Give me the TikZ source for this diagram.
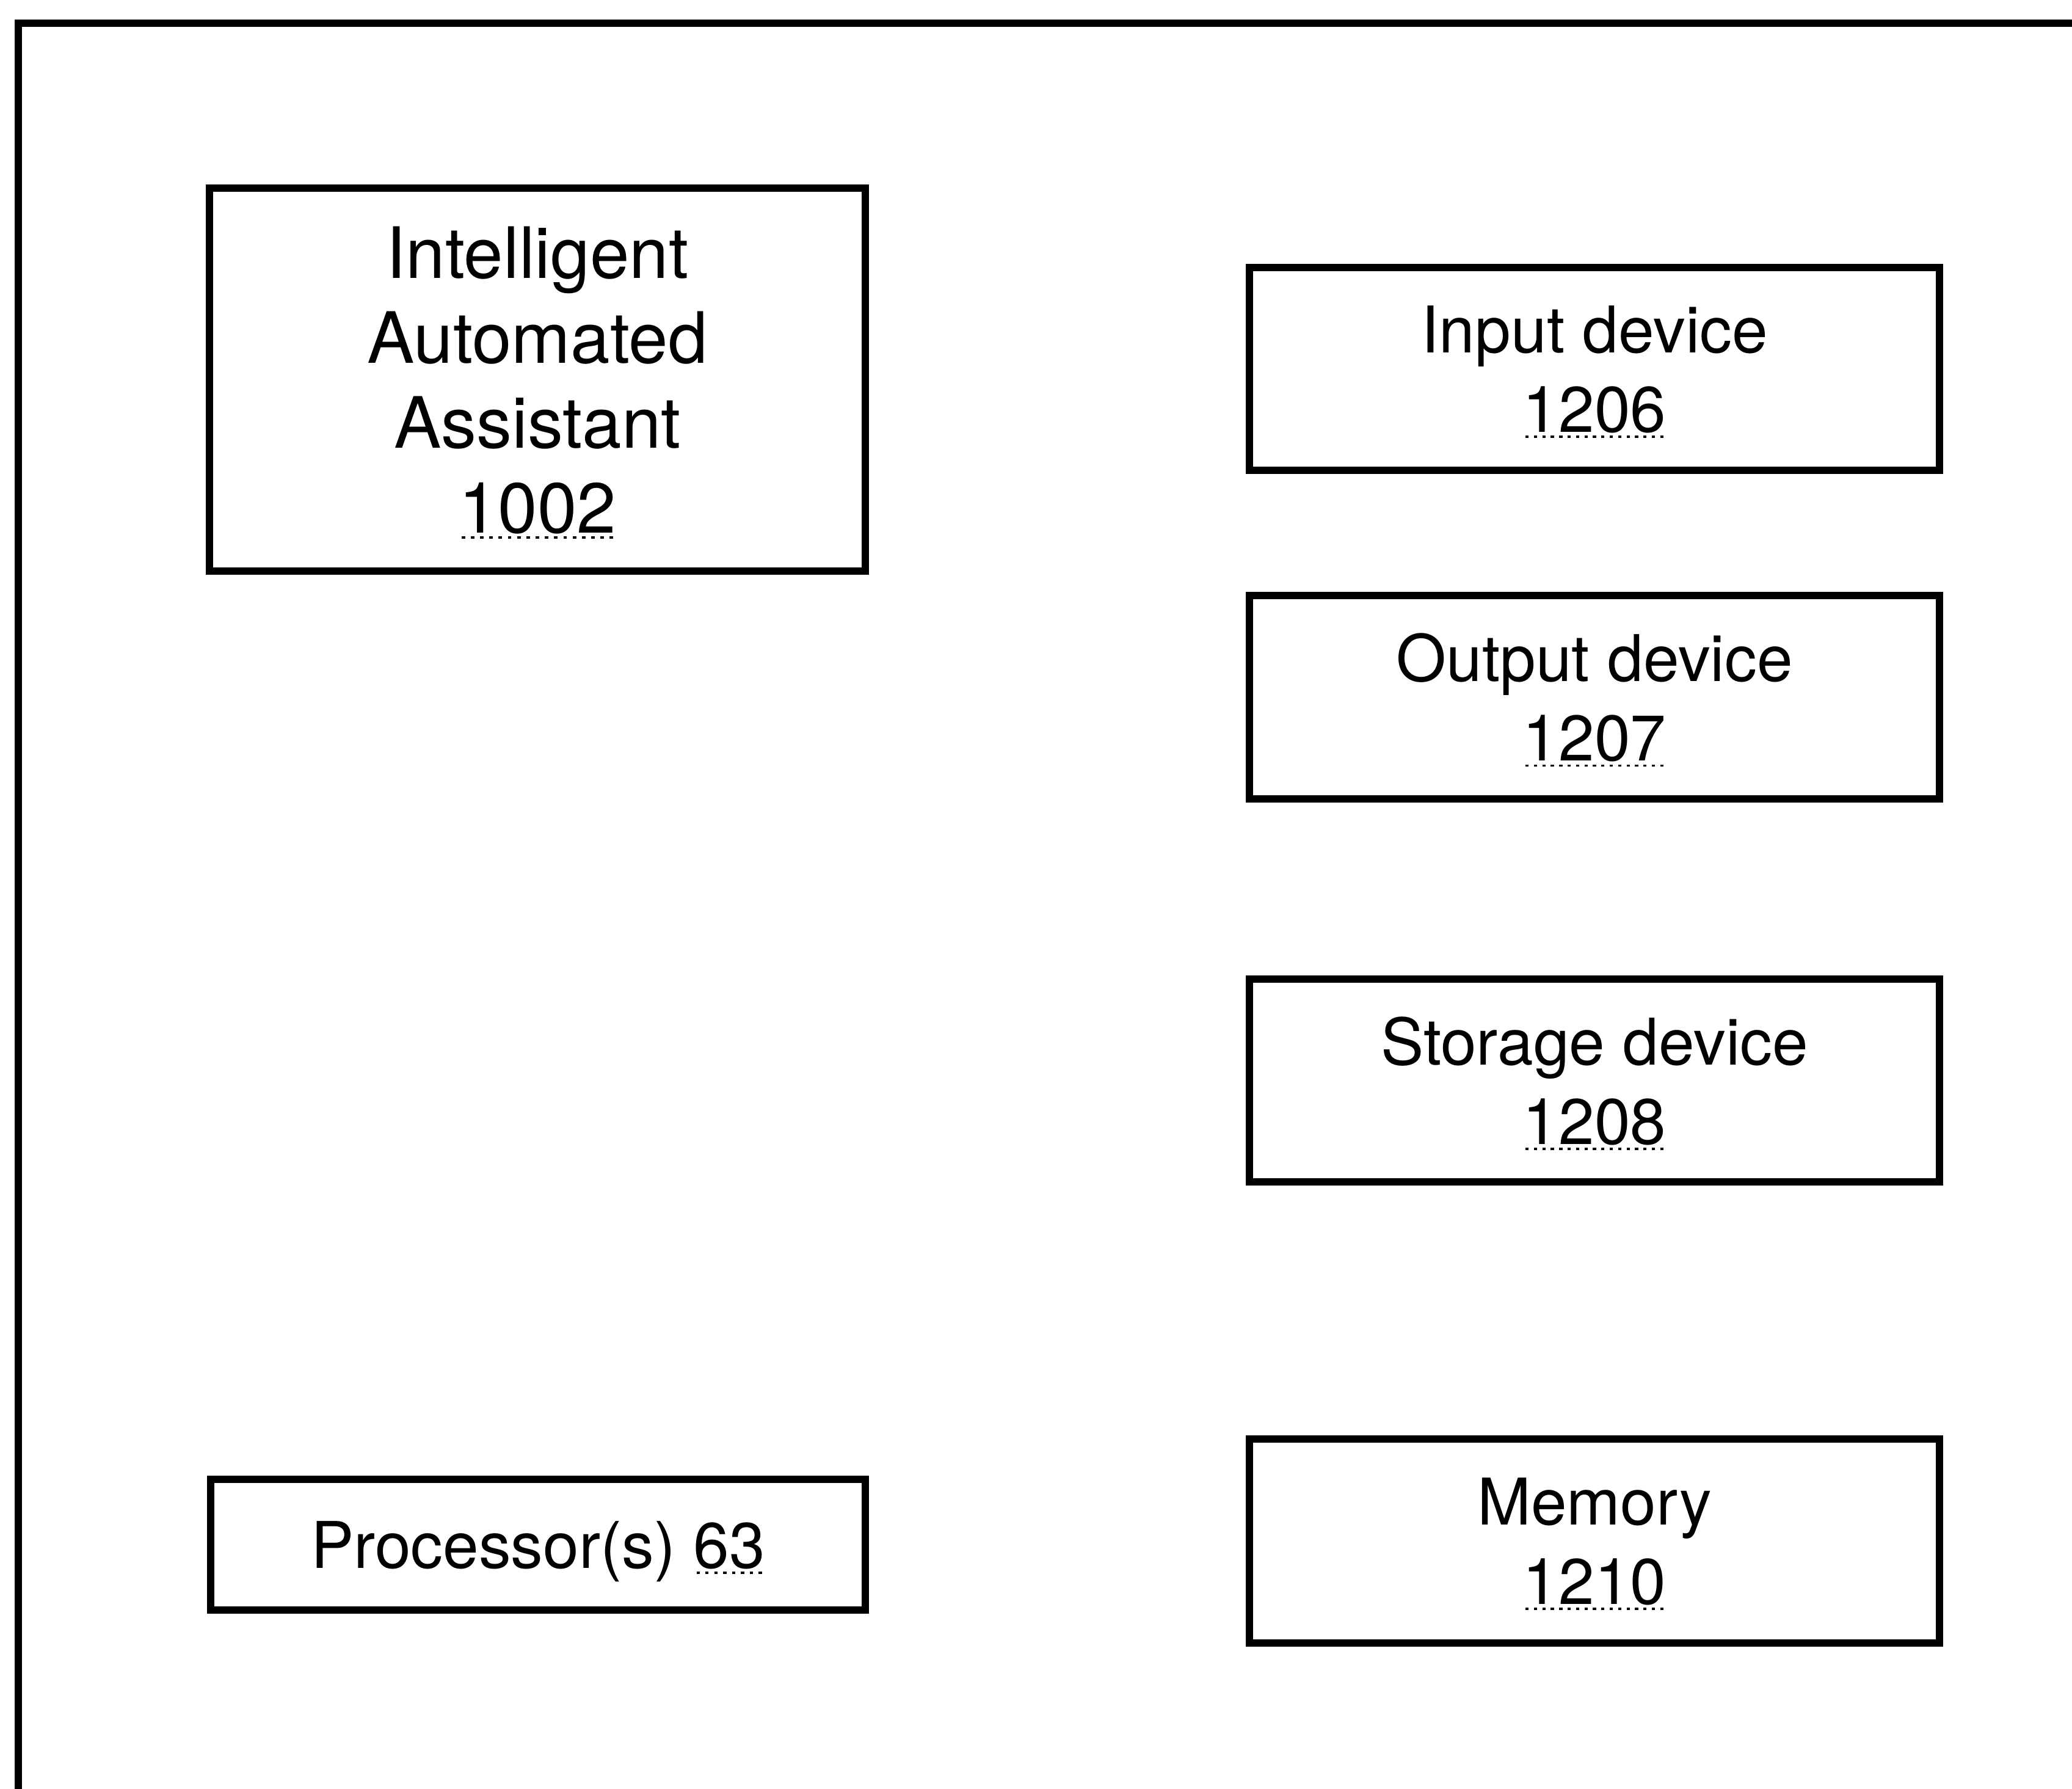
\documentclass[tikz,border=0pt]{standalone}
\usepackage{fontspec}
\setmainfont{TeX Gyre Heros}
\usepackage{tikz}
\usetikzlibrary{positioning}
\newsavebox{\numbox}
\newcommand{\refnum}[1]{\sbox{\numbox}{#1}\leavevmode\rlap{\raisebox{-0.09em}{\hbox to \wd\numbox{\xleaders\hbox to 0.13em{\hss\rule{0.05em}{0.035em}\hss}\hfill}}}\usebox{\numbox}}
\tikzstyle{frame} = [line width=3.4pt, line cap=rect]
\tikzstyle{unit} = [draw, line width=3.5pt, align=center, inner sep=0pt, text depth=-6pt, font=\fontsize{30}{37}\selectfont]
\tikzstyle{bigunit} = [unit, font=\fontsize{33}{39.5}\selectfont]

\begin{document}
\begin{tikzpicture}
\useasboundingbox (0,0) rectangle (33.93,-29.28);
% outer border, cut off at right and bottom
\draw[frame] (0.30,-30.00) |- (35.00,-0.38);

% left column
\node[bigunit, minimum width=10.74cm, minimum height=6.27cm] (assistant) at (8.80,-6.215)
  {Intelligent\\Automated\\Assistant\\\refnum{1002}};
\node[unit, minimum width=10.72cm, minimum height=2.14cm] (proc) at (8.81,-25.29)
  {Processor(s) \refnum{63}};

% right column
\node[unit, minimum width=11.30cm, minimum height=3.32cm] (input) at (26.11,-6.04)
  {Input device\\\refnum{1206}};
\node[unit, minimum width=11.30cm, minimum height=3.33cm] (output) at (26.11,-11.415)
  {Output device\\\refnum{1207}};
\node[unit, minimum width=11.30cm, minimum height=3.32cm] (storage) at (26.11,-17.69)
  {Storage device\\\refnum{1208}};
\node[unit, minimum width=11.30cm, minimum height=3.34cm] (memory) at (26.11,-25.23)
  {Memory\\\refnum{1210}};
\end{tikzpicture}
\end{document}
